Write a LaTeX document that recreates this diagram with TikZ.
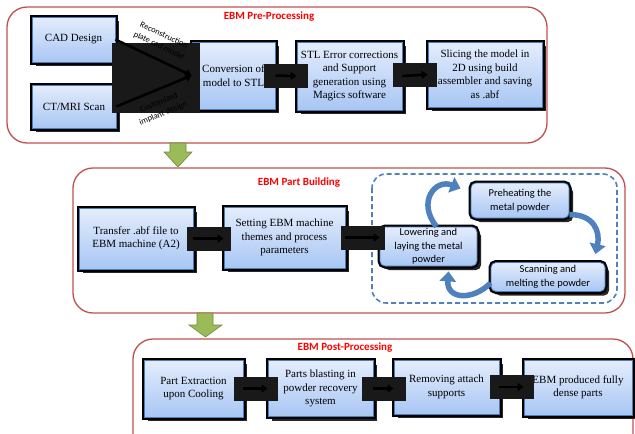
\documentclass[tikz,border=0pt]{standalone}
\usepackage{fontspec}
\setmainfont{Liberation Serif}
\newfontfamily\calibri{Carlito}
\usetikzlibrary{arrows.meta,shadows}

\definecolor{boxtop}{HTML}{E4EDFC}
\definecolor{boxbot}{HTML}{A8C6F4}
\definecolor{boxline}{HTML}{4A7EBB}
\definecolor{framered}{HTML}{C0504D}
\definecolor{titlered}{HTML}{FF0000}
\definecolor{cycleblue}{HTML}{4F81BD}
\definecolor{greenfill}{HTML}{9BBB59}
\definecolor{greenline}{HTML}{71893F}

\tikzset{
  stagebox/.style={draw=boxline, line width=0.8pt, top color=boxtop, bottom color=boxbot,
    drop shadow={shadow xshift=4pt, shadow yshift=-4pt, fill=black!85, opacity=1},
    preaction={draw=black, line width=5pt},
    align=center, inner sep=1pt, font=\fontsize{11}{13.5}\selectfont},
  cyclebox/.style={stagebox, rounded corners=5pt, font=\calibri\fontsize{10.5}{13.5}\selectfont},
  frame/.style={draw=framered, line width=1.3pt, rounded corners=20pt},
  stagetitle/.style={text=titlered, font=\calibri\bfseries\fontsize{11}{13}\selectfont},
  link/.style={line width=2.5pt, -{Triangle[width=8pt,length=6pt]}},
  pad/.style={fill=black!90, minimum width=44pt, minimum height=24pt, inner sep=0pt},
  cyclearrow/.style={draw=cycleblue, line width=5.5pt, -{Triangle[width=16pt,length=10pt]}},
  downarrow/.style={fill=greenfill, draw=greenline, line width=0.6pt},
  edgelabel/.style={font=\calibri\fontsize{8.5}{11.5}\selectfont, align=center, sloped, inner sep=1pt}
}

\begin{document}
\begin{tikzpicture}[x=1pt,y=-1pt]
\useasboundingbox (0,0) rectangle (635,434);

% frames of the three stages
\draw[frame] (7,7) rectangle (547,143);
\draw[frame] (73,168) rectangle (625,313);
\draw[frame] (133,339) rectangle (633,460);
\draw[draw=cycleblue, line width=1.6pt, dash pattern=on 5pt off 3pt, rounded corners=14pt] (372,174) rectangle (617,303);

% green arrows between stages
\draw[downarrow] (170,143) -- (186,143) -- (186,152) -- (192,152) -- (178,167) -- (164,152) -- (170,152) -- cycle;
\draw[downarrow] (197,313) -- (213,313) -- (213,325) -- (222,325) -- (205.5,337) -- (189,325) -- (197,325) -- cycle;

\node[stagetitle] (pretitle) at (269,17) {EBM Pre-Processing};
\node[stagetitle] (buildtitle) at (299,183) {EBM Part Building};
\node[stagetitle] (posttitle) at (345,348) {EBM Post-Processing};

% pre-processing
\node[stagebox, minimum width=83pt, minimum height=45pt] (cad) at (73.5,39.5) {CAD Design};
\node[stagebox, minimum width=84pt, minimum height=43pt] (ctmri) at (74,106.5) {CT/MRI Scan};
\node[stagebox, minimum width=83pt, minimum height=67pt] (convert) at (233.5,75.5) {Conversion of\\model to STL};
\node[stagebox, minimum width=105pt, minimum height=68pt] (fix) at (349.5,76) {STL Error corrections\\and Support\\generation using\\Magics software};
\node[stagebox, minimum width=114pt, minimum height=65pt] (slice) at (485,74.5) {Slicing the model in\\2D using build\\assembler and saving\\as .abf};

\node[pad, minimum width=88pt, minimum height=70pt] (mergepad) at (156,78) {};
\draw[link] (cad.east) -- node[edgelabel, above=7pt] {Reconstruction\\plate cad model} (convert.west);
\draw[link] (ctmri.east) -- node[edgelabel, below=7pt] {Customized\\implant design} (convert.west);
\draw[link] (convert.east) -- node[pad, behind path] {} (fix.west);
\draw[link] (fix.east) -- node[pad, behind path] {} (slice.west);

% part building
\node[stagebox, minimum width=114pt, minimum height=61pt] (transfer) at (136,238.5) {Transfer .abf file to\\EBM machine (A2)};
\node[stagebox, minimum width=121pt, minimum height=61pt] (setting) at (284.5,237.5) {Setting EBM machine\\themes and process\\parameters};
\node[cyclebox, minimum width=97pt, minimum height=39pt] (lowering) at (428.5,246.5) {Lowering and\\laying the metal\\powder};
\node[cyclebox, minimum width=98pt, minimum height=35pt] (preheat) at (520,200.5) {Preheating the\\metal powder};
\node[cyclebox, minimum width=114pt, minimum height=29pt] (melting) at (548,277) {Scanning and\\melting the powder};

\draw[link] (transfer.east) -- node[pad, behind path] {} (transfer.east -| setting.west);
\draw[link] (setting.east) -- node[pad, behind path] {} (setting.east -| lowering.west);

\draw[cyclearrow] ([xshift=8pt]lowering.north) .. controls +(-20,-25) and +(-25,-10) .. ([shift={(-10pt,12pt)}]preheat.west);
\draw[cyclearrow] ([yshift=-14pt]preheat.east) .. controls +(25,0) and +(5,-22) .. ([shift={(-10pt,8pt)}]melting.north east);
\draw[cyclearrow] ([yshift=-6pt]melting.west) .. controls +(-18,18) and +(-2,28) .. ([shift={(20pt,-5pt)}]lowering.south);

% post-processing
\node[stagebox, minimum width=99pt, minimum height=57pt] (extract) at (193.5,388.5) {Part Extraction\\upon Cooling};
\node[stagebox, minimum width=105pt, minimum height=56pt] (blast) at (320.5,388.5) {Parts blasting in\\powder recovery\\system};
\node[stagebox, minimum width=105pt, minimum height=54pt] (remove) at (446.5,387) {Removing attach\\supports};
\node[stagebox, minimum width=108pt, minimum height=55pt] (dense) at (578,387.5) {EBM produced fully\\dense parts};

\draw[link] (extract.east) -- node[pad, behind path] {} (extract.east -| blast.west);
\draw[link] (blast.east) -- node[pad, behind path] {} (blast.east -| remove.west);
\draw[link] (remove.east) -- node[pad, behind path] {} (remove.east -| dense.west);
\end{tikzpicture}
\end{document}
